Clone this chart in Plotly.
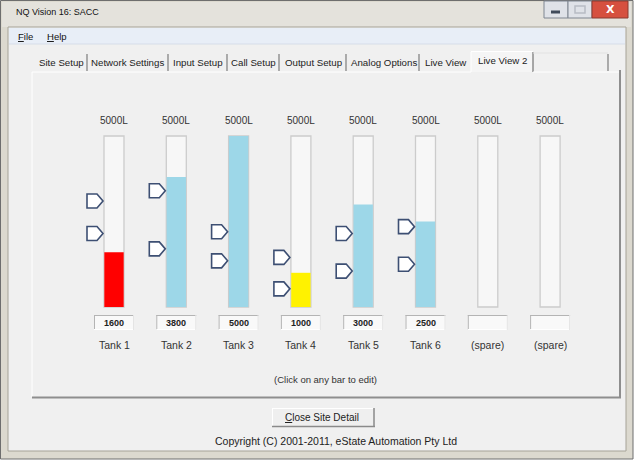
import plotly.graph_objects as go

# ---------------- data ----------------
tanks = ["Tank 1", "Tank 2", "Tank 3", "Tank 4", "Tank 5", "Tank 6", "(spare)", "(spare)"]
capacity = [5000, 5000, 5000, 5000, 5000, 5000, 5000, 5000]
capacity_labels = ["5000L"] * 8
levels = [1600, 3800, 5000, 1000, 3000, 2500, None, None]
alarm_high = [3100, 3400, 2200, 1450, 2150, 2350, None, None]
alarm_low = [2150, 1700, 1350, 530, 1050, 1250, None, None]
level_colors = ["#ff0000", "#9dd7e8", "#9dd7e8", "#fff200", "#9dd7e8", "#9dd7e8", "#9dd7e8", "#9dd7e8"]
tab_labels = ["Site Setup", "Network Settings", "Input Setup", "Call Setup",
              "Output Setup", "Analog Options", "Live View", "Live View 2"]

# ---------------- layout helpers ----------------
W, H = 638, 462
FONT = "Liberation Sans"


def px(x):
    return x / W


def py(y):
    return 1 - y / H


# bar geometry (pixels)
x0_px, step_px, bar_px = 114.0, 62.3, 20.0
y_zero_px, y_full_px = 307.0, 136.0
val_per_px = 5000.0 / (y_zero_px - y_full_px)
yrange = [-(H - y_zero_px) * val_per_px, y_zero_px * val_per_px]
xrange = [-x0_px / step_px, (W - x0_px) / step_px]
bw = bar_px / step_px

idx = list(range(len(tanks)))

fig = go.Figure()

# empty track (capacity)
fig.add_trace(go.Bar(
    x=idx, y=capacity, width=bw,
    marker=dict(color="#f7f7f7", line=dict(color="#cccccc", width=1.3)),
    hoverinfo="skip", showlegend=False))

# level bars
fig.add_trace(go.Bar(
    x=idx, y=levels, width=bw - 0.01,
    marker=dict(color=level_colors, line=dict(width=0)),
    showlegend=False, hovertemplate="%{y}<extra></extra>"))

shapes = []
annotations = []

# alarm markers (tag shapes in data coordinates)
m_left = 27.0 / step_px
m_body = 17.0 / step_px
m_tip = 11.0 / step_px
m_half = 7.0 * val_per_px
for i in idx:
    for v in (alarm_high[i], alarm_low[i]):
        if v is None:
            continue
        path = ("M {l},{t} L {b},{t} L {p},{c} L {b},{bo} L {l},{bo} Z"
                .format(l=i - m_left, b=i - m_body, p=i - m_tip,
                        t=v + m_half, c=v, bo=v - m_half))
        shapes.append(dict(type="path", xref="x", yref="y", path=path,
                           fillcolor="#ffffff", layer="above",
                           line=dict(color="#3d4f73", width=1.6)))


def rect(x0, y0, x1, y1, fill, line=None, lw=1, layer="below"):
    shapes.append(dict(type="rect", xref="paper", yref="paper",
                       x0=px(x0), x1=px(x1), y0=py(y1), y1=py(y0),
                       fillcolor=fill, layer=layer,
                       line=dict(color=line or fill, width=lw if line else 0)))


def hline(x0, x1, y, color, lw=1, layer="below"):
    shapes.append(dict(type="line", xref="paper", yref="paper",
                       x0=px(x0), x1=px(x1), y0=py(y), y1=py(y),
                       line=dict(color=color, width=lw), layer=layer))


def vline(x, y0, y1, color, lw=1, layer="below"):
    shapes.append(dict(type="line", xref="paper", yref="paper",
                       x0=px(x), x1=px(x), y0=py(y0), y1=py(y1),
                       line=dict(color=color, width=lw), layer=layer))


def text(x, y, s, size=10.5, color="#222222", xanchor="center", family=FONT):
    annotations.append(dict(xref="paper", yref="paper", x=px(x), y=py(y),
                            text=s, showarrow=False,
                            xanchor=xanchor, yanchor="middle",
                            font=dict(family=family, size=size, color=color)))


def tank_text(i, y, s, size, color="#333333"):
    annotations.append(dict(xref="x", yref="paper", x=i, y=py(y),
                            text=s, showarrow=False,
                            xanchor="center", yanchor="middle",
                            font=dict(family=FONT, size=size, color=color)))


# window frame
rect(0.5, 0.5, 633, 459, "#dcd9cf", "#6e6e6e", 1)
rect(2, 2, 631, 27, "#e4e2dc")
rect(8, 27, 626, 451, "#f0f0f0", "#a6a398", 1)
# menu bar
rect(9, 28, 625, 44, "#e8eef7")
hline(9, 625, 44, "#d6dde8")
# window buttons
rect(544, 1, 568, 18, "#dfe2e8", "#7f8691", 1)
rect(568, 1, 592, 18, "#dfe2e8", "#7f8691", 1)
rect(592, 1, 628, 18, "#d6503f", "#8a3a30", 1)
hline(551, 560, 12, "#3f4a5a", 3)
rect(575, 6, 585, 13, "rgba(0,0,0,0)", "#b8bcc4", 1.5)
text(610, 9.5, "<b>X</b>", 11, "#ffffff", family="DejaVu Sans")

# title + menu
text(14, 12, "NQ Vision 16: SACC", 9, "#111111", "left")
text(16, 36.5, "<u>F</u>ile", 9.5, "#111111", "left")
text(45, 36.5, "<u>H</u>elp", 9.5, "#111111", "left")

# tab strip
tab_centers = [61, 127, 198, 253, 313, 384, 446, 502]
tab_seps = [87, 168, 227, 279, 346, 419]
rect(471, 51, 533, 73, "#f5f5f5")
vline(471, 52, 72, "#ffffff", 1)
vline(533, 52, 72, "#8c8c8c", 1.5)
hline(471, 533, 51.5, "#ffffff", 1)
hline(533, 608, 53, "#e2e2e2", 1)
for s in tab_seps:
    vline(s, 54, 71, "#7c7c7c", 1.2)
vline(608, 54, 71, "#7c7c7c", 1.2)
for i, t in enumerate(tab_labels):
    text(tab_centers[i], 60.5 if i == 7 else 62, t, 9.7, "#222222")

# tab panel
rect(32, 72, 620, 397, "#f0f0f0")
vline(32, 72, 397, "#ffffff", 1)
hline(32, 471, 72, "#ffffff", 1)
hline(533, 620, 72, "#ffffff", 1)
vline(620, 70, 398, "#8e8e8e", 2)
hline(32, 621, 397.5, "#8e8e8e", 2)

# per-tank labels
for i in idx:
    cx = x0_px + step_px * i
    tank_text(i, 120.5, capacity_labels[i], 10)
    rect(cx - 20, 315, cx + 20, 330, "#f9f9f9", None)
    hline(cx - 20, cx + 20, 315.5, "#b4b4b4", 1)
    vline(cx - 19.5, 315, 330, "#b4b4b4", 1)
    hline(cx - 20, cx + 20, 329.5, "#ffffff", 1)
    vline(cx + 19.5, 315, 330, "#e4e4e4", 1)
    if levels[i] is not None:
        tank_text(i, 322.5, "<b>%d</b>" % levels[i], 9, "#222222")
    tank_text(i, 345, tanks[i], 10.5)

text(325, 379, "(Click on any bar to edit)", 9.5, "#333333")

# close button
rect(272, 408, 374, 427, "#efefef")
hline(272, 374, 408.5, "#ffffff", 1)
vline(272.5, 408, 427, "#ffffff", 1)
hline(272, 375, 426.5, "#8a8a8a", 1.5)
vline(374, 408, 427, "#8a8a8a", 1.5)
text(322, 417.5, "<u>C</u>lose Site Detail", 10, "#222222")

text(335.5, 440.5, "Copyright (C) 2001-2011, eState Automation Pty Ltd", 10.5, "#222222")

fig.update_layout(
    width=W, height=H,
    margin=dict(l=0, r=0, t=0, b=0),
    paper_bgcolor="#ffffff",
    plot_bgcolor="rgba(0,0,0,0)",
    barmode="overlay",
    shapes=shapes,
    annotations=annotations,
    xaxis=dict(range=xrange, domain=[0, 1], visible=False, fixedrange=True),
    yaxis=dict(range=yrange, domain=[0, 1], visible=False, fixedrange=True),
    showlegend=False,
)

fig.write_html("out.html", config={"displayModeBar": False},
               post_script="document.body.style.margin='0';document.body.style.overflow='hidden';")
